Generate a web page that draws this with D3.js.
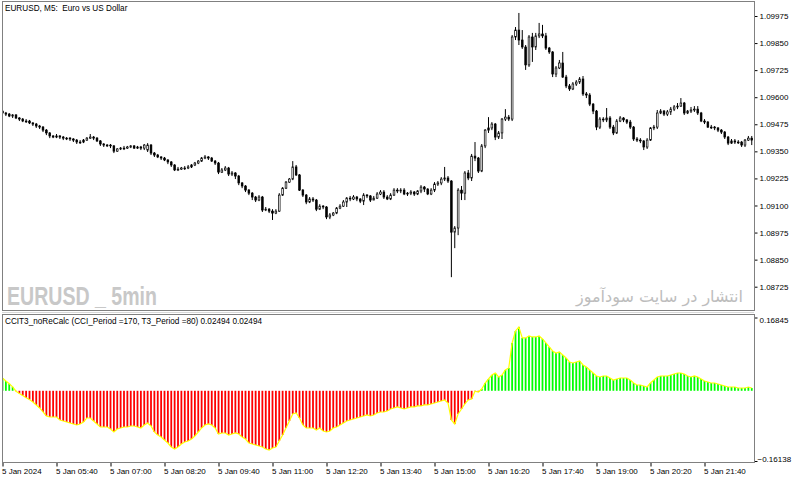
<!DOCTYPE html>
<html>
<head>
<meta charset="utf-8">
<script src="https://cdn.jsdelivr.net/npm/d3@7"></script>
<style>
body { margin: 0; background: #fff; }
svg { display: block; font-family: "Liberation Sans", Arial, sans-serif; }
</style>
</head>
<body>
<svg id="chart" width="800" height="481"></svg>
<script>
// chart texts
const symbolTitle = "EURUSD, M5:  Euro vs US Dollar";
const indicatorTitle = "CCIT3_noReCalc (CCI_Period =170, T3_Period =80) 0.02494 0.02494";
const watermarkLatin = "EURUSD _ 5min";
const watermarkPersian = "انتشار در سایت سودآموز";

// time axis
const startTime = "2024-01-05 04:20";
const timeTicks = ["2024-01-05 04:20", "2024-01-05 05:40", "2024-01-05 07:00", "2024-01-05 08:20",
    "2024-01-05 09:40", "2024-01-05 11:00", "2024-01-05 12:20", "2024-01-05 13:40", "2024-01-05 15:00",
    "2024-01-05 16:20", "2024-01-05 17:40", "2024-01-05 19:00", "2024-01-05 20:20", "2024-01-05 21:40"];
const timeTickLabels = ["5 Jan 2024", "5 Jan 05:40", "5 Jan 07:00", "5 Jan 08:20", "5 Jan 09:40",
    "5 Jan 11:00", "5 Jan 12:20", "5 Jan 13:40", "5 Jan 15:00", "5 Jan 16:20", "5 Jan 17:40",
    "5 Jan 19:00", "5 Jan 20:20", "5 Jan 21:40"];

// price axis
const priceTicks = [1.09975, 1.09850, 1.09725, 1.09600, 1.09475, 1.09350, 1.09225, 1.09100, 1.08975, 1.08850, 1.08725];
const indicatorTicks = [0.16845, -0.16138];

// M5 candles
const opens = [
    1.09536,1.09527,1.09522,1.09513,1.09518,1.09504,1.09499,1.09490,1.09490,1.09481,
    1.09476,1.09467,1.09462,1.09448,1.09435,1.09421,1.09416,1.09421,1.09416,1.09411,
    1.09411,1.09407,1.09402,1.09393,1.09393,1.09402,1.09411,1.09416,1.09411,1.09398,
    1.09384,1.09379,1.09379,1.09375,1.09351,1.09361,1.09365,1.09365,1.09370,1.09375,
    1.09365,1.09370,1.09365,1.09356,1.09379,1.09342,1.09333,1.09324,1.09319,1.09310,
    1.09301,1.09287,1.09264,1.09268,1.09273,1.09273,1.09278,1.09287,1.09296,1.09305,
    1.09319,1.09324,1.09319,1.09305,1.09296,1.09254,1.09264,1.09273,1.09245,1.09250,
    1.09236,1.09204,1.09190,1.09171,1.09157,1.09139,1.09125,1.09139,1.09079,1.09083,
    1.09074,1.09065,1.09074,1.09148,1.09180,1.09208,1.09222,1.09278,1.09241,1.09171,
    1.09148,1.09116,1.09130,1.09125,1.09083,1.09097,1.09093,1.09047,1.09056,1.09065,
    1.09088,1.09097,1.09116,1.09134,1.09130,1.09139,1.09130,1.09120,1.09148,1.09144,
    1.09125,1.09134,1.09153,1.09162,1.09139,1.09130,1.09148,1.09171,1.09167,1.09171,
    1.09153,1.09157,1.09162,1.09153,1.09167,1.09185,1.09176,1.09153,1.09171,1.09199,
    1.09204,1.09222,1.09227,1.09213,1.08977,1.08996,1.09171,1.09157,1.09250,1.09227,
    1.09328,1.09319,1.09259,1.09375,1.09448,1.09458,1.09476,1.09416,1.09435,1.09499,
    1.09508,1.09499,1.09878,1.09910,1.09864,1.09832,1.09749,1.09878,1.09832,1.09883,
    1.09892,1.09883,1.09827,1.09809,1.09707,1.09735,1.09758,1.09693,1.09652,1.09638,
    1.09661,1.09670,1.09684,1.09615,1.09610,1.09568,1.09536,1.09462,1.09499,1.09495,
    1.09504,1.09462,1.09435,1.09490,1.09504,1.09495,1.09485,1.09462,1.09407,1.09402,
    1.09398,1.09370,1.09402,1.09458,1.09462,1.09527,1.09536,1.09522,1.09532,1.09545,
    1.09555,1.09559,1.09573,1.09527,1.09536,1.09541,1.09545,1.09527,1.09490,1.09485,
    1.09462,1.09462,1.09458,1.09448,1.09439,1.09416,1.09388,1.09398,1.09393,1.09393,
    1.09379,1.09402,1.09411];
const highs = [
    1.09541,1.09532,1.09527,1.09522,1.09522,1.09508,1.09504,1.09499,1.09495,1.09485,
    1.09481,1.09472,1.09467,1.09453,1.09439,1.09425,1.09430,1.09425,1.09421,1.09416,
    1.09416,1.09411,1.09407,1.09402,1.09407,1.09416,1.09430,1.09421,1.09416,1.09402,
    1.09388,1.09384,1.09384,1.09379,1.09365,1.09370,1.09375,1.09375,1.09379,1.09379,
    1.09375,1.09375,1.09384,1.09388,1.09384,1.09347,1.09338,1.09328,1.09324,1.09314,
    1.09305,1.09291,1.09278,1.09278,1.09282,1.09287,1.09291,1.09301,1.09310,1.09324,
    1.09333,1.09328,1.09324,1.09310,1.09301,1.09273,1.09282,1.09278,1.09259,1.09254,
    1.09241,1.09208,1.09194,1.09176,1.09162,1.09144,1.09148,1.09144,1.09093,1.09088,
    1.09083,1.09083,1.09157,1.09185,1.09213,1.09227,1.09305,1.09287,1.09245,1.09176,
    1.09153,1.09139,1.09139,1.09130,1.09106,1.09102,1.09097,1.09065,1.09070,1.09093,
    1.09106,1.09125,1.09139,1.09144,1.09148,1.09144,1.09134,1.09157,1.09153,1.09148,
    1.09144,1.09162,1.09171,1.09171,1.09148,1.09157,1.09180,1.09180,1.09180,1.09180,
    1.09162,1.09171,1.09167,1.09171,1.09194,1.09190,1.09180,1.09180,1.09208,1.09213,
    1.09231,1.09278,1.09236,1.09217,1.09005,1.09180,1.09190,1.09259,1.09264,1.09338,
    1.09393,1.09324,1.09384,1.09453,1.09508,1.09485,1.09481,1.09444,1.09504,1.09545,
    1.09518,1.09887,1.09924,1.09989,1.09910,1.09841,1.09887,1.09897,1.09897,1.09943,
    1.09934,1.09897,1.09832,1.09813,1.09744,1.09772,1.09809,1.09703,1.09661,1.09670,
    1.09679,1.09693,1.09698,1.09624,1.09619,1.09573,1.09541,1.09508,1.09508,1.09550,
    1.09513,1.09472,1.09499,1.09513,1.09508,1.09499,1.09495,1.09467,1.09416,1.09411,
    1.09402,1.09411,1.09462,1.09472,1.09541,1.09545,1.09541,1.09541,1.09555,1.09564,
    1.09573,1.09596,1.09578,1.09541,1.09555,1.09559,1.09559,1.09532,1.09499,1.09490,
    1.09472,1.09467,1.09462,1.09453,1.09444,1.09421,1.09407,1.09407,1.09402,1.09398,
    1.09407,1.09421,1.09421];
const lows = [
    1.09518,1.09513,1.09508,1.09504,1.09499,1.09490,1.09485,1.09481,1.09476,1.09467,
    1.09458,1.09453,1.09439,1.09425,1.09411,1.09411,1.09411,1.09407,1.09402,1.09402,
    1.09398,1.09393,1.09384,1.09384,1.09388,1.09398,1.09407,1.09402,1.09393,1.09375,
    1.09370,1.09370,1.09365,1.09342,1.09347,1.09356,1.09356,1.09361,1.09365,1.09361,
    1.09361,1.09356,1.09356,1.09347,1.09333,1.09324,1.09319,1.09310,1.09305,1.09291,
    1.09278,1.09259,1.09259,1.09264,1.09264,1.09268,1.09273,1.09282,1.09291,1.09301,
    1.09314,1.09310,1.09301,1.09287,1.09245,1.09250,1.09259,1.09236,1.09236,1.09222,
    1.09194,1.09180,1.09162,1.09148,1.09125,1.09116,1.09120,1.09070,1.09074,1.09065,
    1.09033,1.09060,1.09070,1.09144,1.09176,1.09204,1.09217,1.09236,1.09167,1.09139,
    1.09106,1.09111,1.09116,1.09074,1.09079,1.09083,1.09037,1.09037,1.09051,1.09060,
    1.09083,1.09093,1.09093,1.09120,1.09125,1.09120,1.09111,1.09102,1.09134,1.09116,
    1.09125,1.09130,1.09148,1.09130,1.09125,1.09125,1.09144,1.09157,1.09157,1.09148,
    1.09144,1.09148,1.09144,1.09148,1.09157,1.09162,1.09148,1.09148,1.09162,1.09190,
    1.09194,1.09213,1.09204,1.08769,1.08903,1.08963,1.09125,1.09125,1.09217,1.09213,
    1.09305,1.09250,1.09254,1.09365,1.09435,1.09448,1.09402,1.09407,1.09407,1.09490,
    1.09490,1.09490,1.09864,1.09841,1.09823,1.09726,1.09740,1.09763,1.09818,1.09873,
    1.09873,1.09818,1.09800,1.09693,1.09693,1.09730,1.09689,1.09642,1.09629,1.09633,
    1.09652,1.09661,1.09606,1.09596,1.09559,1.09522,1.09448,1.09453,1.09485,1.09485,
    1.09453,1.09425,1.09430,1.09485,1.09485,1.09476,1.09453,1.09398,1.09393,1.09388,
    1.09356,1.09361,1.09398,1.09448,1.09453,1.09522,1.09513,1.09513,1.09518,1.09536,
    1.09545,1.09555,1.09518,1.09522,1.09527,1.09532,1.09518,1.09485,1.09476,1.09458,
    1.09453,1.09448,1.09439,1.09430,1.09407,1.09379,1.09384,1.09384,1.09384,1.09370,
    1.09370,1.09398,1.09379];
const closes = [
    1.09527,1.09522,1.09513,1.09518,1.09504,1.09499,1.09490,1.09490,1.09481,1.09476,
    1.09467,1.09462,1.09448,1.09435,1.09421,1.09416,1.09421,1.09416,1.09411,1.09411,
    1.09407,1.09402,1.09393,1.09393,1.09402,1.09411,1.09416,1.09411,1.09398,1.09384,
    1.09379,1.09379,1.09375,1.09351,1.09361,1.09365,1.09365,1.09370,1.09375,1.09365,
    1.09370,1.09365,1.09379,1.09379,1.09342,1.09333,1.09324,1.09319,1.09310,1.09301,
    1.09287,1.09264,1.09268,1.09273,1.09273,1.09278,1.09287,1.09296,1.09305,1.09319,
    1.09324,1.09319,1.09305,1.09296,1.09254,1.09264,1.09273,1.09245,1.09250,1.09236,
    1.09204,1.09190,1.09171,1.09157,1.09139,1.09125,1.09139,1.09079,1.09083,1.09074,
    1.09065,1.09074,1.09148,1.09180,1.09208,1.09222,1.09278,1.09241,1.09171,1.09148,
    1.09116,1.09130,1.09125,1.09083,1.09097,1.09093,1.09047,1.09056,1.09065,1.09088,
    1.09097,1.09116,1.09134,1.09130,1.09139,1.09130,1.09120,1.09148,1.09144,1.09125,
    1.09134,1.09153,1.09162,1.09139,1.09130,1.09148,1.09171,1.09167,1.09171,1.09153,
    1.09157,1.09162,1.09153,1.09167,1.09185,1.09176,1.09153,1.09171,1.09199,1.09204,
    1.09222,1.09227,1.09213,1.08977,1.08996,1.09171,1.09157,1.09250,1.09227,1.09328,
    1.09319,1.09259,1.09375,1.09448,1.09458,1.09476,1.09416,1.09435,1.09499,1.09508,
    1.09499,1.09878,1.09910,1.09864,1.09832,1.09749,1.09878,1.09832,1.09883,1.09892,
    1.09883,1.09827,1.09809,1.09707,1.09735,1.09758,1.09693,1.09652,1.09638,1.09661,
    1.09670,1.09684,1.09615,1.09610,1.09568,1.09536,1.09462,1.09499,1.09495,1.09504,
    1.09462,1.09435,1.09490,1.09504,1.09495,1.09485,1.09462,1.09407,1.09402,1.09398,
    1.09370,1.09402,1.09458,1.09462,1.09527,1.09536,1.09522,1.09532,1.09545,1.09555,
    1.09559,1.09573,1.09527,1.09536,1.09541,1.09545,1.09527,1.09490,1.09485,1.09462,
    1.09462,1.09458,1.09448,1.09439,1.09416,1.09388,1.09398,1.09393,1.09393,1.09379,
    1.09402,1.09411,1.09402];

// CCIT3 histogram
const cciValues = [
    0.0294,0.0225,0.0160,0.0090,-0.0010,-0.0060,-0.0110,-0.0160,-0.0200,-0.0257,
    -0.0326,-0.0395,-0.0487,-0.0579,-0.0602,-0.0602,-0.0602,-0.0671,-0.0694,-0.0717,
    -0.0740,-0.0763,-0.0786,-0.0763,-0.0717,-0.0625,-0.0625,-0.0694,-0.0763,-0.0832,
    -0.0832,-0.0832,-0.0878,-0.0947,-0.0878,-0.0855,-0.0832,-0.0832,-0.0809,-0.0809,
    -0.0832,-0.0855,-0.0786,-0.0740,-0.0809,-0.0947,-0.1016,-0.1062,-0.1131,-0.1200,
    -0.1292,-0.1338,-0.1292,-0.1223,-0.1177,-0.1154,-0.1108,-0.1039,-0.0947,-0.0855,
    -0.0786,-0.0763,-0.0786,-0.0855,-0.0993,-0.0970,-0.0970,-0.1016,-0.0993,-0.0970,
    -0.0993,-0.1062,-0.1108,-0.1200,-0.1223,-0.1246,-0.1269,-0.1292,-0.1338,-0.1361,
    -0.1315,-0.1292,-0.1154,-0.1016,-0.0855,-0.0694,-0.0533,-0.0510,-0.0625,-0.0786,
    -0.0855,-0.0855,-0.0855,-0.0901,-0.0855,-0.0924,-0.0947,-0.0924,-0.0855,-0.0832,
    -0.0786,-0.0740,-0.0694,-0.0671,-0.0648,-0.0625,-0.0602,-0.0579,-0.0556,-0.0579,
    -0.0556,-0.0510,-0.0487,-0.0487,-0.0464,-0.0418,-0.0395,-0.0372,-0.0395,-0.0418,
    -0.0395,-0.0372,-0.0372,-0.0349,-0.0349,-0.0326,-0.0326,-0.0303,-0.0280,-0.0257,
    -0.0234,-0.0211,-0.0280,-0.0671,-0.0763,-0.0533,-0.0418,-0.0303,-0.0211,-0.0188,
    -0.0010,-0.0028,0.0041,0.0179,0.0271,0.0363,0.0409,0.0317,0.0363,0.0478,
    0.0524,0.1099,0.1375,0.1466,0.1214,0.1214,0.1260,0.1237,0.1237,0.1260,
    0.1191,0.1099,0.1007,0.0915,0.0869,0.0892,0.0823,0.0754,0.0662,0.0639,
    0.0662,0.0685,0.0593,0.0547,0.0478,0.0409,0.0340,0.0317,0.0340,0.0340,
    0.0294,0.0248,0.0271,0.0294,0.0294,0.0294,0.0248,0.0179,0.0133,0.0133,
    0.0110,0.0087,0.0179,0.0248,0.0317,0.0340,0.0340,0.0340,0.0363,0.0386,
    0.0409,0.0409,0.0386,0.0340,0.0317,0.0340,0.0317,0.0271,0.0225,0.0202,
    0.0179,0.0179,0.0156,0.0133,0.0110,0.0087,0.0087,0.0087,0.0064,0.0064,
    0.0064,0.0087,0.0064];

let parseTime = d3.timeParse("%Y-%m-%d %H:%M");
let t0 = parseTime(startTime);
let bars = closes.map(function (c, i) {
    return {
        time: d3.timeMinute.offset(t0, 5 * i),
        open: opens[i], high: highs[i], low: lows[i], close: c,
        cci: cciValues[i]
    };
});

let chart = d3.select("#chart");
let frameColor = "#808080";
let axisX = 754.5;
let mainTop = 1.5, mainBottom = 310.5;
let subTop = 314.5, subBottom = 462.5;

let xscale = d3.scaleTime()
    .domain([t0, bars[bars.length - 1].time])
    .range([2.5, 751.75]);

let yscale = d3.scaleLinear()
    .domain([1.08725, 1.09975])
    .range([286.7, 16]);

let cciScale = d3.scaleLinear()
    .domain([-0.16138, 0.16845])
    .range([461, 317.5]);

chart.append("rect").attr("width", 800).attr("height", 481).attr("fill", "#fff");

chart.append("clipPath").attr("id", "mainClip")
    .append("rect").attr("x", 3).attr("y", mainTop + 0.5)
    .attr("width", axisX - 3).attr("height", mainBottom - mainTop - 1);
chart.append("clipPath").attr("id", "subClip")
    .append("rect").attr("x", 3).attr("y", subTop + 0.5)
    .attr("width", axisX - 3).attr("height", subBottom - subTop - 1);

// watermarks
chart.append("text")
    .attr("x", 7).attr("y", 305)
    .attr("textLength", 150)
    .attr("lengthAdjust", "spacingAndGlyphs")
    .style("font-family", "'Liberation Sans', Arial, sans-serif")
    .style("font-weight", "bold")
    .style("font-size", "25px")
    .attr("fill", "#c8c8c8")
    .attr("xml:space", "preserve")
    .text(watermarkLatin);

chart.append("text")
    .attr("x", 743).attr("y", 302)
    .attr("text-anchor", "end")
    .style("font-family", "'DejaVu Sans', sans-serif")
    .style("font-size", "16px")
    .attr("fill", "#bdbdbd")
    .text(watermarkPersian);

// candles
let candles = chart.append("g").attr("clip-path", "url(#mainClip)")
    .selectAll("g.candle").data(bars)
    .enter().append("g").attr("class", "candle");

candles.append("line")
    .attr("x1", d => xscale(d.time)).attr("x2", d => xscale(d.time))
    .attr("y1", d => yscale(d.high)).attr("y2", d => yscale(d.low))
    .attr("stroke", "#000").attr("stroke-width", 1);

let bodyWidth = 1.7;
candles.append("rect")
    .attr("x", d => xscale(d.time) - bodyWidth / 2)
    .attr("width", bodyWidth)
    .attr("y", d => yscale(Math.max(d.open, d.close)))
    .attr("height", d => Math.max(0.8, Math.abs(yscale(d.open) - yscale(d.close))))
    .attr("fill", d => d.close > d.open ? "#fff" : "#000")
    .attr("stroke", "#000")
    .attr("stroke-width", 0.7);

// price axis
let priceAxis = chart.append("g")
    .attr("transform", "translate(" + axisX + ",0)")
    .call(d3.axisRight(yscale).tickValues(priceTicks).tickSize(3).tickFormat(d3.format(".5f")));
priceAxis.select(".domain").remove();
priceAxis.selectAll("line").attr("stroke", "#000");
priceAxis.selectAll("text")
    .attr("x", 5).attr("fill", "#000")
    .style("font-family", "'Liberation Sans', Arial, sans-serif").style("font-size", "8px");

// indicator histogram
let cciGroup = chart.append("g").attr("clip-path", "url(#subClip)");
cciGroup.selectAll("rect.hist").data(bars)
    .enter().append("rect").attr("class", "hist")
    .attr("x", d => xscale(d.time) - 0.9)
    .attr("width", 1.8)
    .attr("y", d => Math.min(cciScale(0), cciScale(d.cci)))
    .attr("height", d => Math.abs(cciScale(d.cci) - cciScale(0)))
    .attr("fill", d => d.cci >= 0 ? "#00ff00" : "#ff0000");

let cciLine = d3.line()
    .x(d => xscale(d.time))
    .y(d => cciScale(d.cci));
cciGroup.append("path")
    .datum(bars)
    .attr("d", cciLine)
    .attr("fill", "none")
    .attr("stroke", "#ffff00")
    .attr("stroke-width", 1.2);

let cciAxis = chart.append("g")
    .attr("transform", "translate(" + axisX + ",0)")
    .call(d3.axisRight(cciScale).tickValues(indicatorTicks).tickSize(3).tickFormat(d3.format(".5f")));
cciAxis.select(".domain").remove();
cciAxis.selectAll("line").attr("stroke", "#000");
cciAxis.selectAll("text")
    .attr("x", d => d < 0 ? 3 : 5)
    .attr("dy", d => d < 0 ? "0.1em" : "0.6em")
    .attr("fill", "#000")
    .style("font-family", "'Liberation Sans', Arial, sans-serif").style("font-size", "8px");

// time axis
let tickDates = timeTicks.map(parseTime);
let timeAxis = chart.append("g")
    .attr("transform", "translate(0," + subBottom + ")")
    .call(d3.axisBottom(xscale).tickValues(tickDates).tickSize(4)
        .tickFormat((d, i) => timeTickLabels[i]));
timeAxis.select(".domain").remove();
timeAxis.selectAll("line").attr("stroke", "#000");
timeAxis.selectAll("text")
    .attr("text-anchor", "start")
    .attr("x", -1).attr("y", 6)
    .attr("fill", "#000")
    .style("font-family", "'Liberation Sans', Arial, sans-serif").style("font-size", "8px");

// pane frames
chart.append("rect")
    .attr("x", 2.5).attr("y", mainTop)
    .attr("width", axisX - 2.5).attr("height", mainBottom - mainTop)
    .attr("fill", "none").attr("stroke", frameColor).attr("stroke-width", 1);
chart.append("rect")
    .attr("x", 2.5).attr("y", subTop)
    .attr("width", axisX - 2.5).attr("height", subBottom - subTop)
    .attr("fill", "none").attr("stroke", frameColor).attr("stroke-width", 1);
chart.append("line")
    .attr("x1", 2.5).attr("x2", axisX)
    .attr("y1", 312.5).attr("y2", 312.5)
    .attr("stroke", "#b0b0b0").attr("stroke-dasharray", "1,1");

// titles
chart.append("text")
    .attr("x", 5).attr("y", 11)
    .attr("xml:space", "preserve")
    .style("font-size", "8.2px").attr("fill", "#000")
    .text(symbolTitle);

chart.append("text")
    .attr("x", 5).attr("y", 323.5)
    .style("font-size", "8.2px").attr("fill", "#000")
    .text(indicatorTitle);
</script>
</body>
</html>
